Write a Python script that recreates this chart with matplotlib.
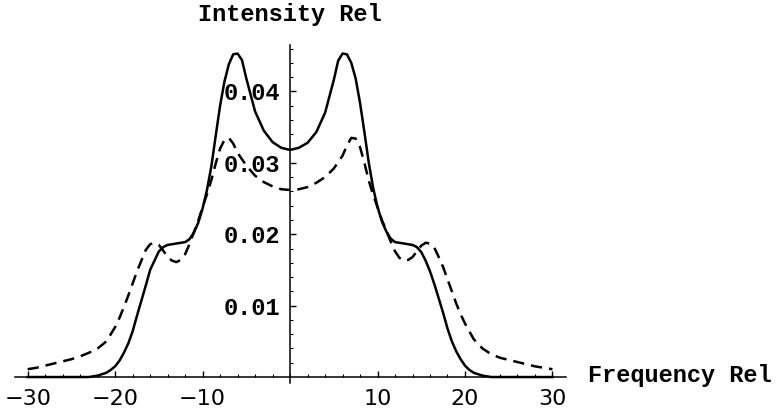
import numpy as np
import matplotlib
matplotlib.use("Agg")
import matplotlib.pyplot as plt

# lineshapes (right half f >= 0, left half at -f)
freq_solid = [0, 1, 2, 3, 4, 5, 5.5, 6, 6.5, 7, 7.5, 8, 8.5, 9, 9.5, 10, 10.5, 11, 11.5, 12,
              13, 14, 14.5, 15, 15.5, 16, 16.5, 17, 17.5, 18, 18.5, 19, 19.5, 20, 20.5, 21, 22, 23, 30]
solid_right = [.0318, .0321, .0328, .0343, .0370, .0416, .0443, .0453, .0452, .0440, .0418, .0384,
               .0343, .0300, .0265, .0238, .0218, .0204, .0194, .0189,
               .0187, .0185, .0182, .0175, .0163, .0148, .0130, .0110, .0090, .0068, .0050, .0036,
               .0025, .0016, .0010, .0006, .0002, 0, 0]
solid_left = [.0318, .0321, .0329, .0345, .0372, .0418, .0444, .0453, .0452, .0438, .0414, .0380,
              .0338, .0295, .0262, .0236, .0216, .0202, .0193, .0189,
              .0187, .0185, .0182, .0176, .0163, .0150, .0128, .0107, .0086, .0064, .0047, .0034,
              .0023, .0015, .0010, .0006, .0002, 0, 0]

freq_dash = [0, 1, 2, 3, 4, 5, 6, 6.5, 7, 7.5, 8, 8.5, 9, 9.5, 10, 10.5, 11, 11.5, 12, 12.5,
             13, 13.5, 14, 14.5, 15, 15.5, 16, 16.5, 17, 17.5, 18, 18.5, 19, 19.5, 20,
             21, 22, 23, 24, 25, 26, 27, 28, 29, 30]
dash_right = [.0262, .0263, .0266, .0272, .0280, .0292, .0310, .0324, .0335, .0334, .0322, .0300,
              .0275, .0255, .0238, .0220, .0205, .0190, .0176, .0167,
              .0163, .0164, .0168, .0176, .0184, .0188, .0187, .0181, .0168, .0154, .0137, .0120,
              .0103, .0088, .0075, .0053, .0040, .0032, .0027, .0024, .0021, .0018, .0015, .0013, .0011]
dash_left = [.0262, .0263, .0267, .0273, .0282, .0296, .0314, .0327, .0335, .0332, .0320, .0299,
             .0276, .0256, .0238, .0219, .0203, .0186, .0172, .0164,
             .0161, .0163, .0168, .0177, .0185, .0188, .0186, .0178, .0163, .0148, .0131, .0114,
             .0098, .0083, .0070, .0050, .0040, .0034, .0029, .0025, .0022, .0019, .0016, .0013, .0011]

xticks = [-30, -20, -10, 10, 20, 30]
yticks = [0.01, 0.02, 0.03, 0.04]

fs = np.array(freq_solid)
fd = np.array(freq_dash)
x_solid = np.concatenate([-fs[::-1], fs[1:]])
y_solid = np.concatenate([np.array(solid_left)[::-1], solid_right[1:]])
x_dash = np.concatenate([-fd[::-1], fd[1:]])
y_dash = np.concatenate([np.array(dash_left)[::-1], dash_right[1:]])

fig = plt.figure(figsize=(7.76, 4.13), dpi=100)
ax = fig.add_axes([15 / 776, (413 - 383.4) / 413, 551 / 776, (383.4 - 45) / 413])

ax.plot(x_solid, y_solid, color='black', lw=1.8, solid_joinstyle='round')
ax.plot(x_dash, y_dash, color='black', lw=1.8, dashes=(4.5, 2.8))

ax.set_xlim(-31.45, 31.55)
ax.set_ylim(-0.00089, 0.0465)

for s in ['top', 'right']:
    ax.spines[s].set_visible(False)
ax.spines['left'].set_position(('data', 0))
ax.spines['bottom'].set_position(('data', 0))
ax.spines['left'].set_linewidth(1.1)
ax.spines['bottom'].set_linewidth(1.1)

ax.set_xticks(xticks)
ax.set_xticklabels([f"\u2212{-t}" if t < 0 else str(t) for t in xticks],
                   fontfamily='DejaVu Sans', fontsize=16)
ax.set_xticks(np.arange(-30, 31, 2), minor=True)
ax.set_yticks(yticks)
ax.set_yticklabels([f"{t:.2f}" for t in yticks],
                   fontfamily='Liberation Mono', fontweight='bold', fontsize=17)
ax.set_yticks(np.arange(0.002, 0.0465, 0.002), minor=True)

ax.tick_params(which='major', direction='in', length=4, width=1)
ax.tick_params(which='minor', direction='in', length=2.5, width=0.8)
ax.tick_params(axis='x', which='major', pad=8.5)
ax.tick_params(axis='y', which='major', pad=7)

fig.text(290 / 776, 1 - 15 / 413, 'Intensity Rel', ha='center', va='center',
         fontfamily='Liberation Mono', fontweight='bold', fontsize=17)
fig.text(588 / 776, 1 - 382 / 413, 'Frequency Rel', ha='left', va='baseline',
         fontfamily='Liberation Mono', fontweight='bold', fontsize=17)

fig.savefig('out.png', dpi=100)
